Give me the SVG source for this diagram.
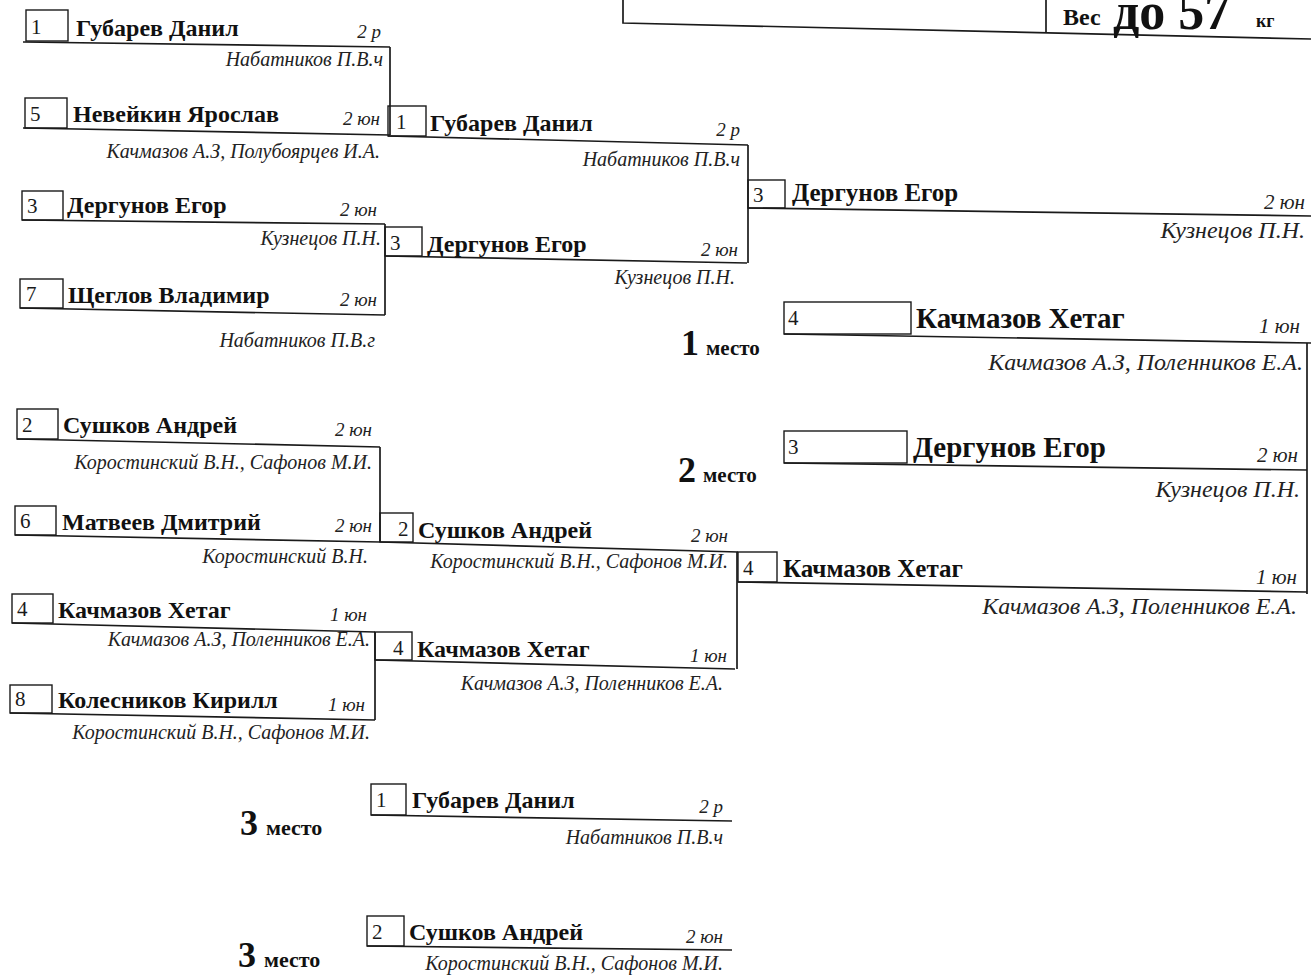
<svg xmlns="http://www.w3.org/2000/svg" width="1311" height="975" viewBox="0 0 1311 975">
<style>
.ln{stroke:#1a1a1a;stroke-width:1.7;fill:none}
.bx{stroke:#1a1a1a;stroke-width:1.4;fill:none}
.num{font-family:"Liberation Serif",serif;font-size:21px;fill:#1a1a1a}
.nm{font-family:"Liberation Serif",serif;font-size:24px;font-weight:bold;fill:#111}
.nmM{font-family:"Liberation Serif",serif;font-size:25px;font-weight:bold;fill:#111}
.nmL{font-family:"Liberation Serif",serif;font-size:29px;font-weight:bold;fill:#111}
.gr{font-family:"Liberation Serif",serif;font-size:19px;font-style:italic;fill:#222;text-anchor:end}
.grL{font-family:"Liberation Serif",serif;font-size:21px;font-style:italic;fill:#222;text-anchor:end}
.co{font-family:"Liberation Serif",serif;font-size:20px;font-style:italic;fill:#222;text-anchor:end}
.coL{font-family:"Liberation Serif",serif;font-size:24px;font-style:italic;fill:#222;text-anchor:end}
.pl{font-family:"Liberation Serif",serif;font-weight:bold;fill:#111}
</style>
<rect width="1311" height="975" fill="#fff"/>

<g id="header">
<path class="ln" d="M623,0 V23 L1311,39"/>
<path class="ln" d="M1046,0 V33"/>
<text class="pl" x="1063" y="25" font-size="24">Вес</text>
<text class="pl" x="1113" y="29" font-size="52">до 57</text>
<text class="pl" x="1256" y="27" font-size="18">кг</text>
</g>

<g id="connectors">
<path class="ln" d="M390,47 V135"/>
<path class="ln" d="M385,224 V315"/>
<path class="ln" d="M748,145 V263"/>
<path class="ln" d="M380,447 V542"/>
<path class="ln" d="M375,632 V720"/>
<path class="ln" d="M737,552 V669"/>
<path class="ln" d="M1307,343 V594"/>
</g>

<g id="r1-gubarev">
<rect class="bx" x="26" y="10" width="42" height="31"/>
<text class="num" x="31" y="34">1</text>
<text class="nm" x="76" y="36">Губарев Данил</text>
<text class="gr" x="381" y="38">2 р</text>
<path class="ln" d="M23,42 L390,47"/>
<text class="co" x="383" y="66">Набатников П.В.ч</text>
</g>
<g id="r1-neveykin">
<rect class="bx" x="25" y="98" width="42" height="30"/>
<text class="num" x="30" y="121">5</text>
<text class="nm" x="73" y="122">Невейкин Ярослав</text>
<text class="gr" x="380" y="125">2 юн</text>
<path class="ln" d="M23,128 L390,135"/>
<text class="co" x="380" y="158">Качмазов А.З, Полубоярцев И.А.</text>
</g>
<g id="r1-dergunov">
<rect class="bx" x="22" y="191" width="41" height="29"/>
<text class="num" x="27" y="213">3</text>
<text class="nm" x="67" y="213">Дергунов Егор</text>
<text class="gr" x="377" y="216">2 юн</text>
<path class="ln" d="M22,220 L385,224"/>
<text class="co" x="381" y="245">Кузнецов П.Н.</text>
</g>
<g id="r1-shcheglov">
<rect class="bx" x="20" y="279" width="43" height="29"/>
<text class="num" x="26" y="301">7</text>
<text class="nm" x="68" y="303">Щеглов Владимир</text>
<text class="gr" x="377" y="306">2 юн</text>
<path class="ln" d="M20,308 L385,315"/>
<text class="co" x="375" y="347">Набатников П.В.г</text>
</g>
<g id="r1-sushkov">
<rect class="bx" x="17" y="409" width="41" height="30"/>
<text class="num" x="22" y="432">2</text>
<text class="nm" x="63" y="433">Сушков Андрей</text>
<text class="gr" x="372" y="436">2 юн</text>
<path class="ln" d="M17,439 L380,447"/>
<text class="co" x="372" y="469">Коростинский В.Н., Сафонов М.И.</text>
</g>
<g id="r1-matveev">
<rect class="bx" x="15" y="506" width="41" height="29"/>
<text class="num" x="20" y="528">6</text>
<text class="nm" x="62" y="530">Матвеев Дмитрий</text>
<text class="gr" x="372" y="532">2 юн</text>
<path class="ln" d="M15,535 L380,542"/>
<text class="co" x="368" y="563">Коростинский В.Н.</text>
</g>
<g id="r1-kachmazov">
<rect class="bx" x="12" y="594" width="41" height="29"/>
<text class="num" x="17" y="616">4</text>
<text class="nm" x="58" y="618">Качмазов Хетаг</text>
<text class="gr" x="367" y="621">1 юн</text>
<path class="ln" d="M12,623 L375,632"/>
<text class="co" x="370" y="646">Качмазов А.З, Поленников Е.А.</text>
</g>
<g id="r1-kolesnikov">
<rect class="bx" x="10" y="685" width="42" height="28"/>
<text class="num" x="15" y="706">8</text>
<text class="nm" x="58" y="708">Колесников Кирилл</text>
<text class="gr" x="365" y="711">1 юн</text>
<path class="ln" d="M10,713 L375,720"/>
<text class="co" x="370" y="739">Коростинский В.Н., Сафонов М.И.</text>
</g>

<g id="r2-gubarev">
<rect class="bx" x="388" y="106" width="38" height="30"/>
<text class="num" x="396" y="129">1</text>
<text class="nm" x="430" y="131">Губарев Данил</text>
<text class="gr" x="740" y="136">2 р</text>
<path class="ln" d="M388,136 L748,145"/>
<text class="co" x="740" y="166">Набатников П.В.ч</text>
</g>
<g id="r2-dergunov">
<rect class="bx" x="385" y="227" width="37" height="29"/>
<text class="num" x="390" y="250">3</text>
<text class="nm" x="427" y="252">Дергунов Егор</text>
<text class="gr" x="738" y="256">2 юн</text>
<path class="ln" d="M385,256 L747,263"/>
<text class="co" x="735" y="284">Кузнецов П.Н.</text>
</g>
<g id="r2-sushkov">
<rect class="bx" x="380" y="513" width="33" height="29"/>
<text class="num" x="398" y="536">2</text>
<text class="nm" x="418" y="538">Сушков Андрей</text>
<text class="gr" x="728" y="542">2 юн</text>
<path class="ln" d="M380,542 L738,552"/>
<text class="co" x="728" y="568">Коростинский В.Н., Сафонов М.И.</text>
</g>
<g id="r2-kachmazov">
<rect class="bx" x="375" y="632" width="37" height="28"/>
<text class="num" x="393" y="655">4</text>
<text class="nm" x="417" y="657">Качмазов Хетаг</text>
<text class="gr" x="727" y="662">1 юн</text>
<path class="ln" d="M375,660 L735,669"/>
<text class="co" x="723" y="690">Качмазов А.З, Поленников Е.А.</text>
</g>

<g id="r3-dergunov">
<rect class="bx" x="748" y="180" width="37" height="28"/>
<text class="num" x="753" y="202">3</text>
<text class="nmM" x="792" y="201">Дергунов Егор</text>
<text class="grL" x="1305" y="209">2 юн</text>
<path class="ln" d="M748,208 L1311,216"/>
<text class="coL" x="1305" y="238">Кузнецов П.Н.</text>
</g>
<g id="r3-kachmazov">
<rect class="bx" x="738" y="552" width="39" height="30"/>
<text class="num" x="743" y="575">4</text>
<text class="nmM" x="783" y="577">Качмазов Хетаг</text>
<text class="grL" x="1297" y="584">1 юн</text>
<path class="ln" d="M738,582 L1307,592"/>
<text class="coL" x="1297" y="614">Качмазов А.З, Поленников Е.А.</text>
</g>

<g id="place1">
<text class="pl" x="681" y="355"><tspan font-size="36">1</tspan><tspan font-size="21" dx="7">место</tspan></text>
<rect class="bx" x="784" y="302" width="127" height="32"/>
<text class="num" x="788" y="325">4</text>
<text class="nmL" x="916" y="328">Качмазов Хетаг</text>
<text class="grL" x="1300" y="333">1 юн</text>
<path class="ln" d="M784,334 L1311,343"/>
<text class="coL" x="1303" y="370">Качмазов А.З, Поленников Е.А.</text>
</g>
<g id="place2">
<text class="pl" x="678" y="482"><tspan font-size="36">2</tspan><tspan font-size="21" dx="7">место</tspan></text>
<rect class="bx" x="784" y="431" width="123" height="32"/>
<text class="num" x="788" y="454">3</text>
<text class="nmL" x="913" y="457">Дергунов Егор</text>
<text class="grL" x="1298" y="462">2 юн</text>
<path class="ln" d="M784,463 L1307,470"/>
<text class="coL" x="1300" y="497">Кузнецов П.Н.</text>
</g>
<g id="place3a">
<text class="pl" x="240" y="835"><tspan font-size="36">3</tspan><tspan font-size="22" dx="8">место</tspan></text>
<rect class="bx" x="371" y="784" width="35" height="31"/>
<text class="num" x="376" y="807">1</text>
<text class="nm" x="412" y="808">Губарев Данил</text>
<text class="gr" x="723" y="813">2 р</text>
<path class="ln" d="M371,815 L732,821"/>
<text class="co" x="723" y="844">Набатников П.В.ч</text>
</g>
<g id="place3b">
<text class="pl" x="238" y="967"><tspan font-size="36">3</tspan><tspan font-size="22" dx="8">место</tspan></text>
<rect class="bx" x="367" y="916" width="37" height="30"/>
<text class="num" x="372" y="939">2</text>
<text class="nm" x="409" y="940">Сушков Андрей</text>
<text class="gr" x="723" y="943">2 юн</text>
<path class="ln" d="M367,946 L732,950"/>
<text class="co" x="723" y="970">Коростинский В.Н., Сафонов М.И.</text>
</g>
</svg>
